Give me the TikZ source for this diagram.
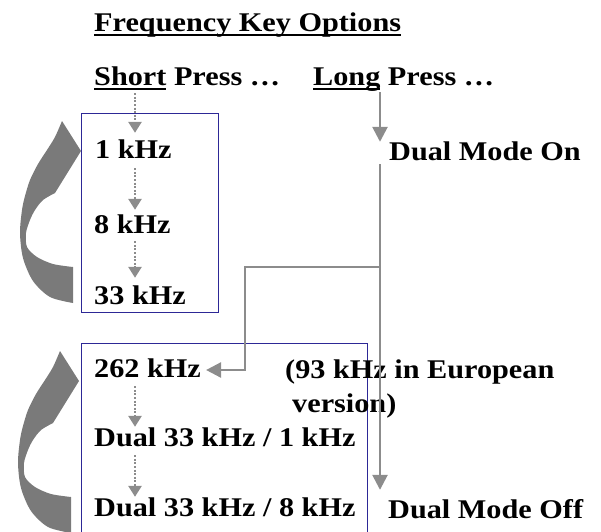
\documentclass[tikz,border=0pt]{standalone}
\usepackage{fontspec}
\setmainfont{Liberation Serif}[FakeStretch=1.12]
\newcommand{\myul}[1]{\setbox0=\hbox{#1}\rlap{\rule[-5pt]{\wd0}{2.5pt}}\box0\relax}
\usetikzlibrary{arrows.meta,calc}
\definecolor{boxblue}{RGB}{45,40,150}
\definecolor{curvegray}{RGB}{122,122,122}
\definecolor{linegray}{RGB}{140,140,140}
\definecolor{dotgray}{RGB}{140,140,140}
\begin{document}
\begin{tikzpicture}[x=1pt,y=-1pt,
  txt/.style={anchor=base west, inner sep=0pt, text height=19pt, text depth=0pt,
    font=\bfseries\fontsize{27}{32}\selectfont},
  grp/.style={draw=boxblue, line width=1.3pt, inner sep=0pt, anchor=north west},
  dotarrow/.style={draw=dotgray, line width=2.6pt, dash pattern=on 2pt off 1.6pt,
    -{Triangle[width=13pt,length=11pt,fill=dotgray]}},
  solidarrow/.style={draw=linegray, line width=2.6pt,
    -{Triangle[width=15pt,length=15pt,fill=linegray]}},
  pics/curvedarrow/.style={code={
    \fill[curvegray] (73,303) -- plot[smooth] coordinates {(73,303) (50,297) (33,281)
        (23,258) (20,233) (22,210) (25,196) (30,180) (38,164) (47,150) (55,137) (62,121)}
      -- (81,151) -- (55,193)
      -- plot[smooth] coordinates {(55,193) (43,200) (35,210) (30,220) (26,233)
        (27,247) (37,257) (53,264) (73,267)}
      -- cycle;
  }}
]
\useasboundingbox (0,0) rectangle (601,531);
\clip (0,0) rectangle (601,531);

% group boxes
\node[grp, minimum width=137pt, minimum height=199pt] (box1) at (81,113) {};
\node[grp, minimum width=286pt, minimum height=220pt] (box2) at (81,343) {};

% curved cycle arrows
\pic at (0,0) {curvedarrow};
\pic at (-2,230) {curvedarrow};

% texts
\node[txt] (title) at (94,31) {\myul{Frequency Key Options}};
\node[txt] (short) at (94,85) {\myul{Short} Press …};
\node[txt] (long) at (313,85) {\myul{Long} Press …};
\node[txt] (k1) at (95,158) {1 kHz};
\node[txt] (k8) at (94,233) {8 kHz};
\node[txt] (k33) at (94,304) {33 kHz};
\node[txt] (dmon) at (389,160) {Dual Mode On};
\node[txt] (k262) at (94,377) {262 kHz};
\node[txt] (eu1) at (285,378) {(93 kHz in European};
\node[txt] (eu2) at (292,412) {version)};
\node[txt] (d1) at (94,446) {Dual 33 kHz / 1 kHz};
\node[txt] (d8) at (94,516) {Dual 33 kHz / 8 kHz};
\node[txt] (dmoff) at (388,518) {Dual Mode Off};

% short press chain
\coordinate (colA) at (135,0);
\draw[dotarrow] ($(colA |- short.south)+(0,8)$) -- ($(colA |- k1.north)+(0,-6)$);
\draw[dotarrow] ($(colA |- k1.south)+(0,10)$) -- ($(colA |- k8.north)+(0,-4)$);
\draw[dotarrow] ($(colA |- k8.south)+(0,8)$) -- ($(colA |- k33.north)+(0,-7)$);
\draw[dotarrow] ($(colA |- k262.south)+(0,9)$) -- ($(colA |- d1.north)+(0,0)$);
\draw[dotarrow] ($(colA |- d1.south)+(0,9)$) -- ($(colA |- d8.north)+(0,0)$);

% long press chain
\coordinate (colB) at (380,0);
\draw[solidarrow] ($(colB |- long.south)+(0,7)$) -- ($(colB |- dmon.north)+(0,1)$);
\draw[solidarrow] ($(colB |- dmon.south)+(0,4)$) -- ($(colB |- dmoff.north)+(0,-9)$);
\coordinate (j) at (380,267);
\coordinate (bend) at (245,267);
\draw[solidarrow] (j) -- (bend) |- ($(k262.base east)+(5,-7)$);
\end{tikzpicture}
\end{document}
